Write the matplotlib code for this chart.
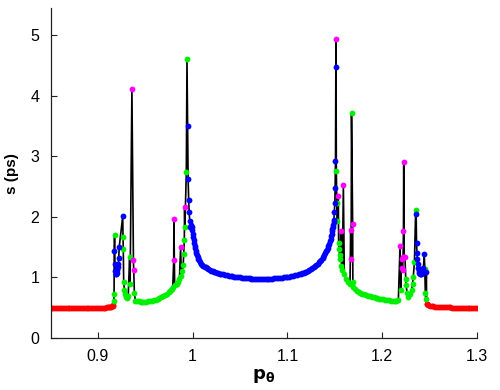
import numpy as np
import matplotlib.pyplot as plt

plt.rcParams['font.family'] = ['Liberation Sans', 'DejaVu Sans']

# red points (outer flat parts)
red_x = [0.850, 0.852, 0.854, 0.856, 0.858, 0.860, 0.862, 0.864, 0.866, 0.868,
         0.870, 0.872, 0.874, 0.876, 0.878, 0.880, 0.882, 0.884, 0.886, 0.888,
         0.890, 0.892, 0.894, 0.896, 0.898, 0.900, 0.902, 0.904, 0.906, 0.908,
         0.910, 0.911, 0.912, 0.913, 0.914, 0.915, 0.9155, 0.916,
         1.2468, 1.2475, 1.2485, 1.250, 1.252, 1.254, 1.256, 1.258, 1.260,
         1.262, 1.264, 1.266, 1.268, 1.270, 1.272, 1.274, 1.276, 1.278,
         1.280, 1.282, 1.284, 1.286, 1.288, 1.290, 1.292, 1.294, 1.296,
         1.298, 1.300]
red_y = [0.490, 0.490, 0.490, 0.490, 0.490, 0.490, 0.490, 0.490, 0.490, 0.490,
         0.491, 0.491, 0.491, 0.491, 0.491, 0.492, 0.492, 0.492, 0.493, 0.493,
         0.494, 0.494, 0.495, 0.496, 0.497, 0.498, 0.499, 0.501, 0.503, 0.505,
         0.508, 0.510, 0.513, 0.516, 0.520, 0.527, 0.535, 0.550,
         0.570, 0.555, 0.545, 0.535, 0.528, 0.523, 0.519, 0.516, 0.514,
         0.512, 0.510, 0.509, 0.508, 0.507, 0.506, 0.505, 0.505, 0.504,
         0.504, 0.503, 0.503, 0.503, 0.503, 0.502, 0.502, 0.502, 0.502,
         0.502, 0.502]

# green points
green_x = [0.9168, 0.9171, 0.9176, 0.9265, 0.9268, 0.9272, 0.9280, 0.9290,
           0.9300, 0.9310, 0.9320, 0.9335, 0.9340, 0.9385, 0.9395,
           0.941, 0.943, 0.945, 0.947, 0.949, 0.951, 0.953, 0.955, 0.957,
           0.959, 0.961, 0.963, 0.965, 0.967, 0.969, 0.971, 0.973, 0.975,
           0.976, 0.977, 0.978, 0.979, 0.981, 0.983, 0.985,
           0.986, 0.988, 0.989, 0.990, 0.9905, 0.9912, 0.9918, 0.9933, 0.9940,
           1.1516, 1.1520, 1.1523, 1.1540, 1.1545, 1.1550, 1.1555, 1.1570,
           1.1580, 1.1600, 1.1620, 1.1640, 1.1660, 1.1676, 1.1690, 1.1695,
           1.171, 1.173, 1.175, 1.177, 1.179, 1.181, 1.183, 1.185, 1.187,
           1.189, 1.191, 1.193, 1.195, 1.197, 1.199, 1.201, 1.203, 1.205,
           1.207, 1.209, 1.211, 1.213, 1.215, 1.217,
           1.2195, 1.2248, 1.2252, 1.2262, 1.2275, 1.2290, 1.2310, 1.2320,
           1.2328, 1.2340, 1.2353, 1.2449, 1.2455, 1.2460]
green_y = [0.62, 0.72, 1.70, 1.67, 1.47, 0.93, 0.80, 0.72,
           0.67, 0.66, 0.70, 1.34, 0.90, 0.74, 0.62,
           0.62, 0.61, 0.603, 0.60, 0.60, 0.60, 0.604, 0.61, 0.617,
           0.626, 0.636, 0.647, 0.66, 0.675, 0.69, 0.71, 0.735, 0.76,
           0.775, 0.79, 0.815, 0.84, 0.87, 0.89, 0.92,
           0.97, 1.02, 1.10, 1.20, 1.38, 1.62, 1.83, 2.74, 4.60,
           2.75, 2.23, 1.93, 1.57, 1.47, 1.37, 1.30, 1.19,
           1.12, 1.05, 0.98, 0.93, 0.90, 3.71, 0.93, 0.85,
           0.81, 0.78, 0.76, 0.745, 0.73, 0.72, 0.708, 0.697, 0.688,
           0.679, 0.671, 0.664, 0.657, 0.65, 0.644, 0.638, 0.633, 0.628,
           0.623, 0.619, 0.616, 0.614, 0.616, 0.625,
           0.79, 0.98, 0.88, 0.74, 0.68, 0.72, 0.79, 0.90,
           1.01, 1.26, 2.11, 1.14, 0.74, 0.64]

# blue points
blue_x = [0.9172, 0.9180, 0.9185, 0.9190, 0.9195, 0.9200, 0.9205, 0.9210,
          0.9215, 0.9220, 0.9225, 0.9262,
          0.9947, 0.9952, 0.9958, 0.9963, 0.9969, 0.9975, 0.9982,
          0.9990, 0.9995, 1.0000, 1.0005, 1.0010, 1.0015, 1.0020, 1.0025,
          1.0030, 1.0038, 1.0045, 1.0052, 1.0060, 1.0070, 1.0080, 1.0090,
          1.0100, 1.0112, 1.0125, 1.0138, 1.0150, 1.0165, 1.0180, 1.0195,
          1.0210, 1.0225, 1.0240, 1.0255, 1.0270, 1.0285, 1.0300, 1.0320,
          1.0340, 1.0360, 1.0380, 1.0400, 1.0420, 1.0440, 1.0460, 1.0480,
          1.0500, 1.0520, 1.0540, 1.0560, 1.0580, 1.0600, 1.0620, 1.0640,
          1.0660, 1.0680, 1.0700, 1.0720, 1.0740, 1.0760, 1.0780, 1.0800,
          1.0820, 1.0840, 1.0860, 1.0880, 1.0900, 1.0920, 1.0940, 1.0960,
          1.0980, 1.1000, 1.1020, 1.1040, 1.1060, 1.1080, 1.1100, 1.1120,
          1.1140, 1.1155, 1.1170, 1.1185, 1.1200, 1.1215, 1.1230, 1.1245,
          1.1260, 1.1275, 1.1290, 1.1305, 1.1320, 1.1333, 1.1345, 1.1357,
          1.1370, 1.1380, 1.1390, 1.1400, 1.1410, 1.1418, 1.1425, 1.1433,
          1.1440, 1.1448, 1.1455, 1.1460, 1.1465, 1.1470, 1.1475, 1.1479,
          1.1483, 1.1487, 1.1490, 1.1495, 1.1500, 1.1503, 1.1507, 1.1510,
          1.2358, 1.2362, 1.2366, 1.2370, 1.2374, 1.2380, 1.2386, 1.2392,
          1.2398, 1.2404, 1.2410, 1.2416, 1.2422, 1.2428, 1.2434, 1.2444,
          1.2466]
blue_y = [1.43, 1.22, 1.10, 1.05, 1.06, 1.08, 1.12, 1.17,
          1.22, 1.32, 1.50, 2.01,
          3.50, 2.62, 2.27, 2.08, 1.93, 1.84, 1.86,
          1.83, 1.78, 1.72, 1.67, 1.62, 1.57, 1.52, 1.48,
          1.44, 1.40, 1.37, 1.34, 1.31, 1.28, 1.25, 1.23,
          1.21, 1.195, 1.18, 1.165, 1.15, 1.137, 1.125, 1.112,
          1.10, 1.092, 1.085, 1.077, 1.07, 1.063, 1.057, 1.05,
          1.043, 1.036, 1.03, 1.024, 1.018, 1.013, 1.008, 1.004,
          1.00, 0.996, 0.993, 0.99, 0.987, 0.984, 0.982, 0.98,
          0.978, 0.977, 0.976, 0.976, 0.976, 0.976, 0.977, 0.978,
          0.980, 0.982, 0.984, 0.987, 0.990, 0.993, 0.996, 1.00,
          1.004, 1.009, 1.014, 1.02, 1.026, 1.034, 1.042, 1.05,
          1.06, 1.068, 1.077, 1.087, 1.097, 1.108, 1.12, 1.134,
          1.15, 1.167, 1.185, 1.205, 1.23, 1.25, 1.27, 1.295,
          1.32, 1.345, 1.37, 1.40, 1.43, 1.46, 1.49, 1.525,
          1.56, 1.60, 1.64, 1.68, 1.72, 1.76, 1.80, 1.835,
          1.87, 1.91, 1.95, 2.08, 2.23, 2.48, 2.92, 4.47,
          2.05, 1.57, 1.41, 1.30, 1.22, 1.15, 1.10, 1.07,
          1.05, 1.05, 1.06, 1.08, 1.10, 1.12, 1.15, 1.38,
          1.09]

# magenta points
magenta_x = [0.9359, 0.9375, 0.9378, 0.9800, 0.9802, 0.9873, 0.9915,
             1.1512, 1.1537, 1.1562, 1.1590, 1.1667, 1.1672, 1.1688,
             1.2188, 1.2205, 1.2210, 1.2215, 1.2220, 1.2224, 1.2227,
             1.2232, 1.2240]
magenta_y = [4.11, 1.28, 1.13, 1.28, 1.97, 1.50, 2.17,
             4.94, 2.35, 1.76, 2.52, 1.78, 1.30, 1.89,
             1.52, 1.30, 1.15, 1.12, 1.34, 1.76, 2.90,
             1.34, 1.33]

all_x = np.concatenate([red_x, green_x, blue_x, magenta_x])
all_y = np.concatenate([red_y, green_y, blue_y, magenta_y])
order = np.argsort(all_x, kind='stable')

fig = plt.figure(figsize=(5, 3.9), dpi=100)
ax = fig.add_axes([0.101, 0.133, 0.853, 0.846])

ax.plot(all_x[order], all_y[order], color='black', lw=1.2, zorder=1)
ms = 4.2
ax.plot(red_x, red_y, 'o', color='#ff0000', ms=ms, mew=0, zorder=2)
ax.plot(green_x, green_y, 'o', color='#00ee00', ms=ms, mew=0, zorder=2)
ax.plot(blue_x, blue_y, 'o', color='#0000ff', ms=ms, mew=0, zorder=3)
ax.plot(magenta_x, magenta_y, 'o', color='#ff00ff', ms=ms, mew=0, zorder=3)

ax.set_xlim(0.85, 1.3)
ax.set_ylim(0, 5.44)
ax.set_xticks([0.9, 1.0, 1.1, 1.2, 1.3])
ax.set_xticklabels(['0.9', '1', '1.1', '1.2', '1.3'])
ax.set_yticks([0, 1, 2, 3, 4, 5])
ax.spines['top'].set_visible(False)
ax.spines['right'].set_visible(False)
for s in ['left', 'bottom']:
    ax.spines[s].set_linewidth(0.9)
    ax.spines[s].set_color('#222222')
ax.tick_params(direction='in', length=4, width=0.8, labelsize=11.5, pad=8,
               colors='#222222', labelcolor='black')

ax.set_xlabel(r'$\mathbf{p}_{\mathbf{\theta}}$', fontsize=13, labelpad=2)
ax.set_ylabel('s (ps)', fontsize=11, fontweight='bold', labelpad=8)

fig.savefig('out.png', dpi=100)
